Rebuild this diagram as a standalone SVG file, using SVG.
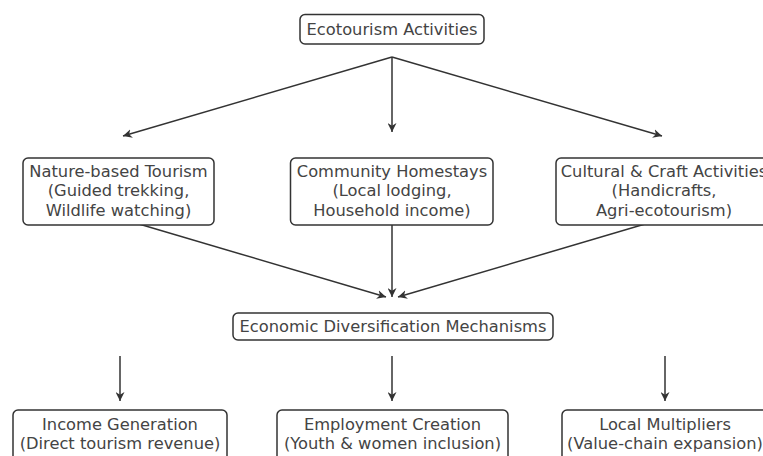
<svg xmlns="http://www.w3.org/2000/svg" width="763" height="456" viewBox="0 0 763 456">
<defs>
<marker id="ah" viewBox="0 0 10 10" refX="10" refY="5" markerWidth="9" markerHeight="9" markerUnits="userSpaceOnUse" orient="auto">
<path d="M0,0 L10,5 L0,10 L3,5 Z" fill="#333"/>
</marker>
<style>
.box{fill:#fff;stroke:#333;stroke-width:1.5}
.t{font-family:"DejaVu Sans",sans-serif;font-size:16.3px;fill:#444;text-anchor:middle}
.c{stroke:#333;stroke-width:1.5;fill:none;marker-end:url(#ah)}
</style>
</defs>
<rect width="763" height="456" fill="#fff"/>
<g id="connectors">
<line class="c" x1="392" y1="57" x2="123" y2="136"/>
<line class="c" x1="392" y1="57" x2="392" y2="132"/>
<line class="c" x1="392" y1="57" x2="662" y2="136"/>
<line class="c" x1="122" y1="219" x2="386" y2="297"/>
<line class="c" x1="392" y1="225" x2="392" y2="297"/>
<line class="c" x1="662" y1="219" x2="398" y2="297"/>
<line class="c" x1="120" y1="356" x2="120" y2="401"/>
<line class="c" x1="392" y1="356" x2="392" y2="401"/>
<line class="c" x1="665" y1="356" x2="665" y2="401"/>
</g>
<g id="ecotourism">
<rect class="box" x="300" y="14.5" width="184" height="29.5" rx="5"/>
<text class="t" x="392" y="34.5">Ecotourism Activities</text>
</g>
<g id="nature">
<rect class="box" x="23" y="158" width="191" height="67" rx="5"/>
<text class="t" x="118.5" y="176.5">Nature-based Tourism</text>
<text class="t" x="118.5" y="196">(Guided trekking,</text>
<text class="t" x="118.5" y="215.5">Wildlife watching)</text>
</g>
<g id="homestays">
<rect class="box" x="290.5" y="158" width="202.5" height="67" rx="5"/>
<text class="t" x="392" y="176.5">Community Homestays</text>
<text class="t" x="392" y="196">(Local lodging,</text>
<text class="t" x="392" y="215.5">Household income)</text>
</g>
<g id="cultural">
<rect class="box" x="556" y="158" width="216" height="67" rx="5"/>
<text class="t" x="664" y="176.5">Cultural &amp; Craft Activities</text>
<text class="t" x="664" y="196">(Handicrafts,</text>
<text class="t" x="664" y="215.5">Agri-ecotourism)</text>
</g>
<g id="economic">
<rect class="box" x="233" y="313" width="320" height="27" rx="5"/>
<text class="t" x="393" y="332">Economic Diversification Mechanisms</text>
</g>
<g id="income">
<rect class="box" x="13" y="410" width="214" height="60" rx="5"/>
<text class="t" x="120" y="430">Income Generation</text>
<text class="t" x="120" y="448.5">(Direct tourism revenue)</text>
</g>
<g id="employment">
<rect class="box" x="277" y="410" width="231" height="60" rx="5"/>
<text class="t" x="392.5" y="430">Employment Creation</text>
<text class="t" x="392.5" y="448.5">(Youth &amp; women inclusion)</text>
</g>
<g id="multipliers">
<rect class="box" x="562" y="410" width="220" height="60" rx="5"/>
<text class="t" x="665" y="430">Local Multipliers</text>
<text class="t" x="665" y="448.5">(Value-chain expansion)</text>
</g>
</svg>
